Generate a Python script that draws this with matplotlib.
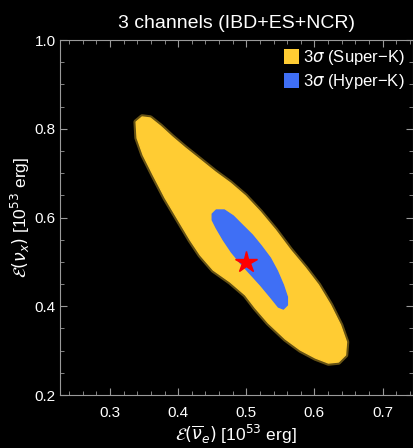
"""
3 channels (IBD+ES+NCR): 3 sigma regions for Super-K and Hyper-K
"""
import matplotlib
matplotlib.use("Agg")
import matplotlib.pyplot as plt
from matplotlib.patches import Polygon, Patch

# outline of the Super-K 3 sigma cloud
superk_x = [0.3383, 0.3471, 0.3589, 0.3736, 0.3912, 0.4103, 0.4324, 0.4544, 0.4765,
            0.4986, 0.5206, 0.5427, 0.5647, 0.5868, 0.6059, 0.6236, 0.6383, 0.6471,
            0.6456, 0.6353, 0.6206, 0.6015, 0.5794, 0.5574, 0.5324, 0.5133, 0.4986,
            0.4765, 0.4515, 0.4324, 0.4177, 0.4001, 0.3809, 0.3633, 0.3486, 0.3397]
superk_y = [0.8152, 0.8265, 0.8242, 0.8062, 0.7814, 0.7566, 0.7296, 0.7025, 0.6777,
            0.6485, 0.6124, 0.5718, 0.5268, 0.4862, 0.4479, 0.4028, 0.3577, 0.3194,
            0.2901, 0.2744, 0.2721, 0.2834, 0.3014, 0.3262, 0.3623, 0.3961, 0.4254,
            0.4546, 0.4817, 0.5155, 0.5493, 0.5944, 0.6439, 0.6958, 0.7408, 0.7792]

# outline of the Hyper-K 3 sigma cloud
hyperk_x = [0.4500, 0.4559, 0.4677, 0.4809, 0.4941, 0.5089, 0.5221, 0.5353, 0.5456,
            0.5544, 0.5603, 0.5603, 0.5544, 0.5471, 0.5353, 0.5206, 0.5059, 0.4912,
            0.4780, 0.4662, 0.4559, 0.4500]
hyperk_y = [0.6079, 0.6169, 0.6169, 0.6034, 0.5831, 0.5606, 0.5358, 0.5087, 0.4794,
            0.4479, 0.4208, 0.4028, 0.3938, 0.3983, 0.4208, 0.4479, 0.4727, 0.4975,
            0.5223, 0.5493, 0.5763, 0.5944]

# true point
true_x = [0.5]
true_y = [0.5]

x_ticks = [0.3, 0.4, 0.5, 0.6, 0.7]
y_ticks = [0.2, 0.4, 0.6, 0.8, 1.0]

yellow = "#FFCC33"
blue = "#3F6FF5"
gray = "#9A9A9A"


def main():
    plt.rcParams["font.family"] = ["Liberation Sans", "DejaVu Sans"]
    plt.rcParams["mathtext.fontset"] = "dejavusans"

    fig = plt.figure(figsize=(4.13, 4.48), dpi=100, facecolor="black")
    ax = fig.add_axes([0.1453, 0.1183, 0.8535, 0.7924], facecolor="black")

    # soft speckled rim, then the dense cloud
    ax.add_patch(Polygon(list(zip(superk_x, superk_y)), closed=True,
                         facecolor="none", edgecolor=yellow, lw=4, alpha=0.4,
                         joinstyle="round"))
    ax.add_patch(Polygon(list(zip(superk_x, superk_y)), closed=True,
                         facecolor=yellow, edgecolor=yellow, lw=1.0,
                         joinstyle="round"))
    ax.add_patch(Polygon(list(zip(hyperk_x, hyperk_y)), closed=True,
                         facecolor=blue, edgecolor=blue, lw=1.0,
                         joinstyle="round"))
    ax.plot(true_x, true_y, marker="*", color="red", ms=16, mec="red", ls="none")

    ax.set_xlim(0.2265, 0.744)
    ax.set_ylim(0.2, 1.0)
    ax.set_xticks(x_ticks)
    ax.set_yticks(y_ticks)
    ax.set_xticklabels([f"{t:.1f}" for t in x_ticks])
    ax.set_yticklabels([f"{t:.1f}" for t in y_ticks])
    ax.set_xticks([0.24 + 0.02 * i for i in range(26)], minor=True)
    ax.set_yticks([0.2 + 0.05 * i for i in range(17)], minor=True)

    for s in ax.spines.values():
        s.set_color(gray)
        s.set_linewidth(0.8)
    ax.tick_params(which="both", direction="in", colors=gray, top=True, right=True,
                   labelcolor="white")
    ax.tick_params(which="major", length=5, width=0.8, labelsize=11)
    ax.tick_params(which="minor", length=3, width=0.6)
    ax.tick_params(axis="x", which="major", pad=8)
    ax.tick_params(axis="y", which="major", pad=3)

    ax.set_xlabel(r"$\mathcal{E}(\overline{\nu}_e)$ [10$^{53}$ erg]", color="white",
                  fontsize=12.5, labelpad=2)
    ax.set_ylabel(r"$\mathcal{E}(\nu_x)$ [10$^{53}$ erg]", color="white",
                  fontsize=12.5, labelpad=2)
    ax.set_title("3 channels (IBD+ES+NCR)", color="white", fontsize=14, pad=9)

    handles = [Patch(facecolor=yellow, edgecolor="none"),
               Patch(facecolor=blue, edgecolor="none")]
    labels = ["3$\\sigma$ (Super\u2212K)", "3$\\sigma$ (Hyper\u2212K)"]
    leg = ax.legend(handles, labels, loc="upper right", frameon=False, fontsize=12,
                    handlelength=0.9, handleheight=1.0, handletextpad=0.2,
                    labelspacing=0.3, borderaxespad=0.3, borderpad=0.2)
    for t in leg.get_texts():
        t.set_color("white")

    fig.savefig("out.png", dpi=100, facecolor="black")


if __name__ == "__main__":
    main()
